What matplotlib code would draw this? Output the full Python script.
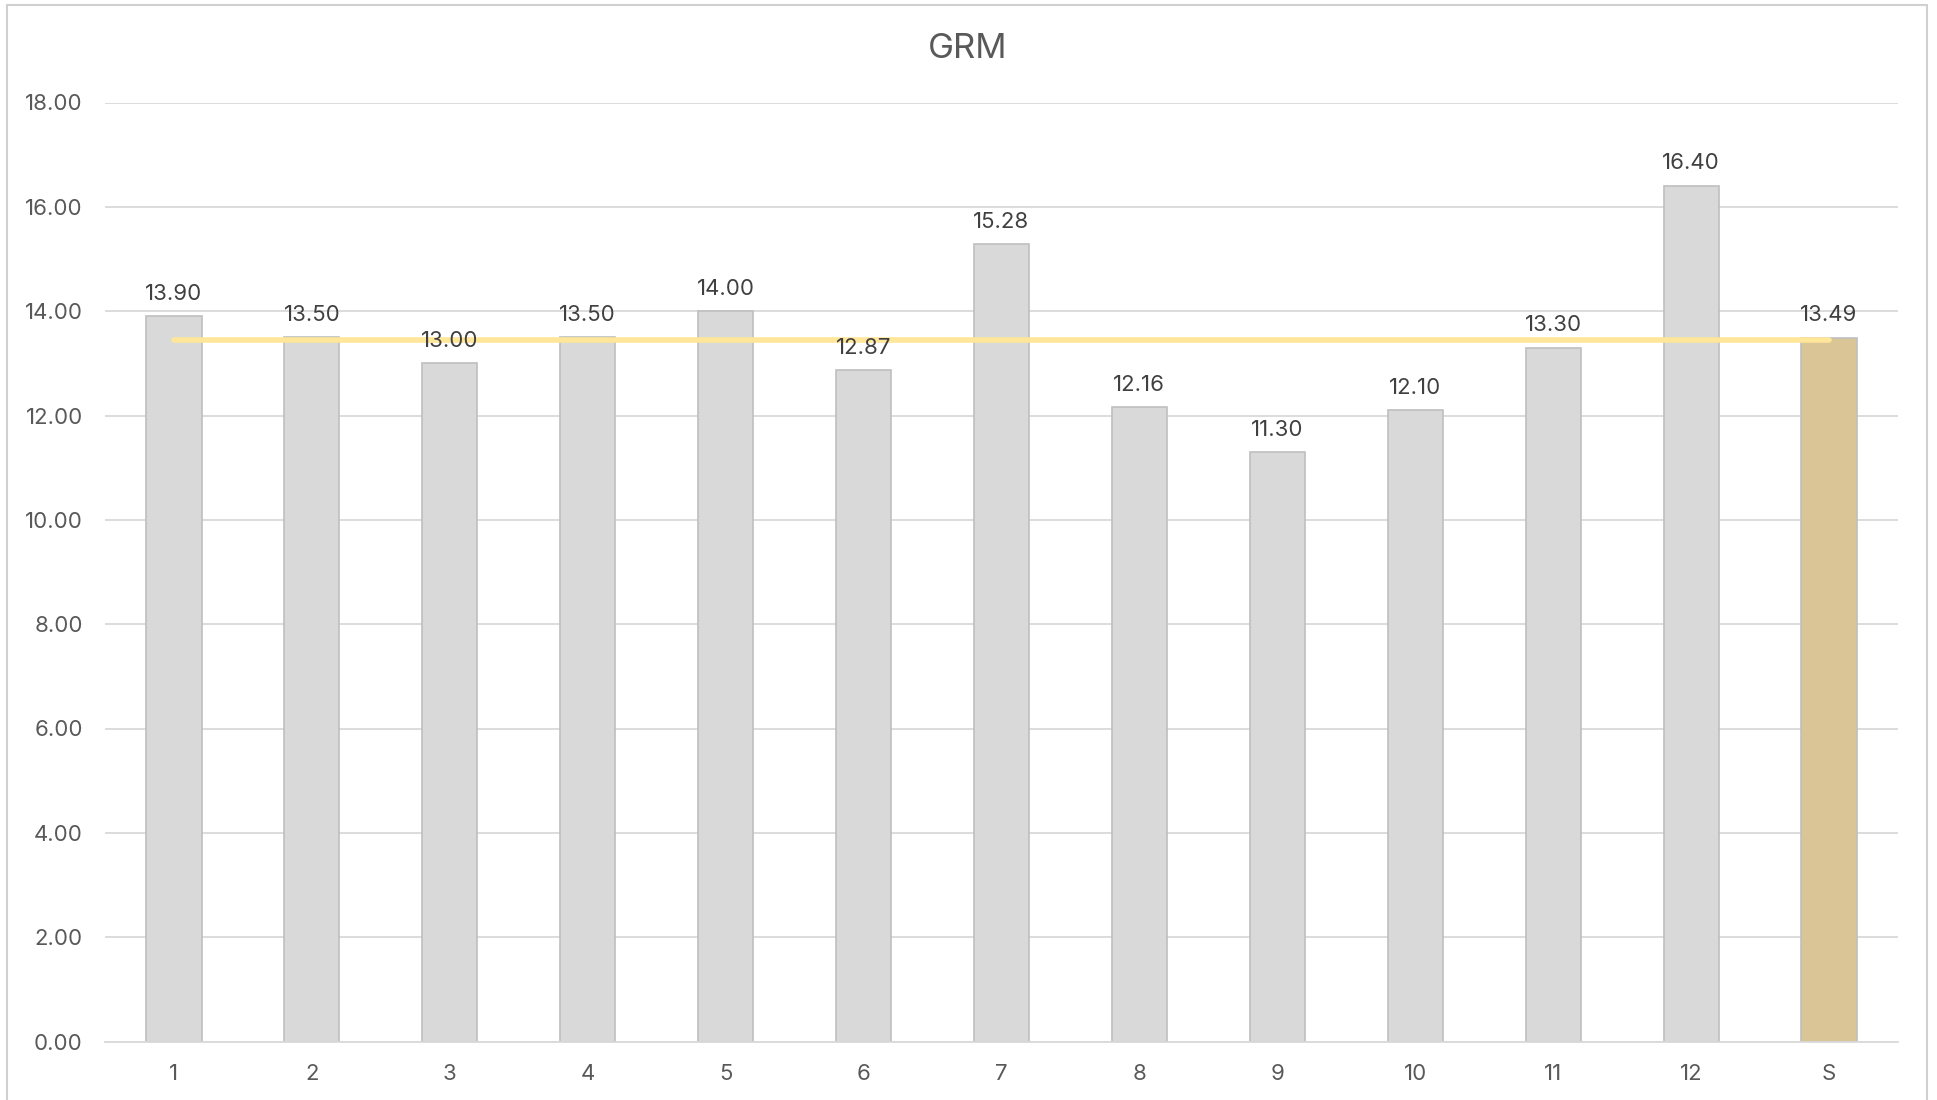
import matplotlib.pyplot as plt
from matplotlib.patches import Rectangle

categories = ['1', '2', '3', '4', '5', '6', '7', '8', '9', '10', '11', '12', 'S']
values = [13.90, 13.50, 13.00, 13.50, 14.00, 12.87, 15.28, 12.16, 11.30, 12.10, 13.30, 16.40, 13.49]
average = [13.44] * len(categories)

text_color = '#595959'
plt.rcParams['font.family'] = ['Inter', 'DejaVu Sans']

fig = plt.figure(figsize=(19.37, 11), dpi=100)
ax = fig.add_axes([105 / 1937, 1 - 1041.5 / 1100, (1898 - 105) / 1937, (1041.5 - 102.5) / 1100])

x = list(range(len(categories)))
colors = ['#d9d9d9'] * (len(categories) - 1) + ['#d9c596']
ax.bar(x, values, width=0.4, color=colors, edgecolor='#bfbfbf', linewidth=1.2, zorder=2)
ax.plot(x, average, color='#ffe699', linewidth=4, solid_capstyle='round', zorder=3)

for xi, v in zip(x, values):
    ax.annotate(f'{v:.2f}', (xi, v), xytext=(0, 9), textcoords='offset points',
                ha='center', va='bottom', fontsize=16, color='#404040', zorder=4)

ax.set_xlim(-0.5, len(categories) - 0.5)
ax.set_ylim(0, 18)
ax.set_yticks([i * 2 for i in range(10)])
ax.set_yticklabels([f'{i * 2:.2f}' for i in range(10)])
ax.set_xticks(x)
ax.set_xticklabels(categories)
ax.tick_params(axis='both', length=0, labelsize=16, colors=text_color)
ax.tick_params(axis='y', pad=16)
ax.tick_params(axis='x', pad=16)
ax.grid(axis='y', color='#d9d9d9', linewidth=1.3, zorder=0)
for side in ['top', 'right', 'left']:
    ax.spines[side].set_visible(False)
ax.spines['bottom'].set_color('#d9d9d9')
ax.spines['bottom'].set_linewidth(1.3)

fig.text(968 / 1937, 1 - 49 / 1100, 'GRM', ha='center', va='center', fontsize=25, color=text_color)

fig.patches.append(Rectangle((7 / 1937, -0.01), (1927 - 7) / 1937, 1.0 - 5 / 1100 + 0.01,
                             transform=fig.transFigure, fill=False, edgecolor='#d0d0d0', linewidth=1.5))

fig.savefig('out.png', dpi=100)
